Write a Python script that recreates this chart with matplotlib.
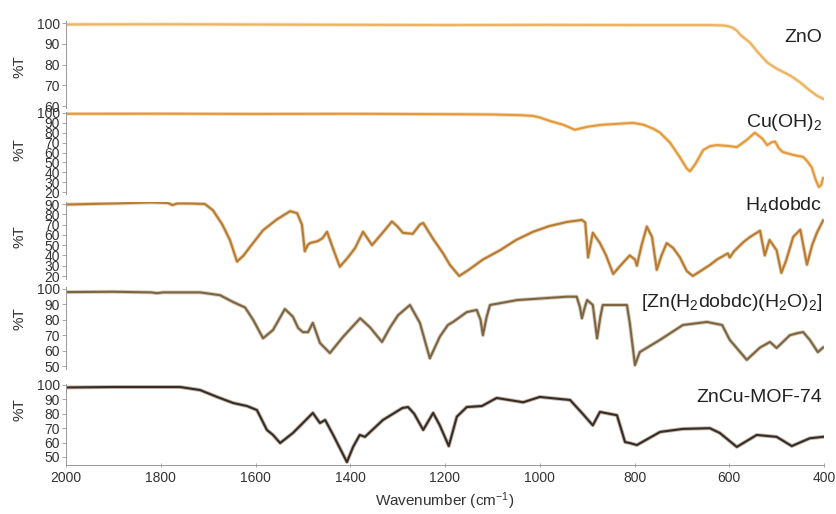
import matplotlib
matplotlib.use('Agg')
import matplotlib.pyplot as plt


FILE = 'out.png'

WIDTH_PX = 836
HEIGHT_PX = 514
LEFT_PX = 66
RIGHT_PX = 824

NAMES = ['ZnO', 'Cu(OH)$_\\mathregular{2}$', 'H$_\\mathregular{4}$dobdc',
         '[Zn(H$_\\mathregular{2}$dobdc)(H$_\\mathregular{2}$O)$_\\mathregular{2}$]', 'ZnCu-MOF-74']
COLORS = ['#EBB45E', '#E39A3A', '#B97B30', '#7E6540', '#3B2C1F']

ZNO_WN = [2000, 1800, 1500, 1200, 1000, 800, 640, 610, 595, 585, 575, 556, 540, 520,
          500, 487, 470, 451, 430, 415, 402]
ZNO_T = [99.3, 99.4, 99.2, 99.0, 99.1, 99.0, 99.0, 98.8, 98.0, 96.5, 94.0, 90.5, 86.0, 81.0,
         78.0, 76.5, 74.5, 71.5, 67.5, 65.0, 63.5]

CUOH_WN = [2000, 1800, 1600, 1400, 1200, 1100, 1040, 1014, 1000, 979, 950, 926, 900, 870,
           837, 803, 780, 760, 746, 725, 704, 690, 683, 672, 655, 640, 626, 600, 584, 565,
           546, 530, 520, 510, 503, 495, 487, 465, 444, 435, 426, 418, 411, 406, 402]
CUOH_T = [99.2, 99.3, 99.0, 99.2, 98.8, 98.5, 97.8, 97.0, 95.5, 92.0, 88.0, 83.0, 86.0, 88.0,
          89.0, 90.0, 88.0, 84.0, 80.0, 70.0, 55.0, 44.0, 41.0, 48.0, 62.5, 66.5, 67.5, 66.5,
          65.5, 72.0, 80.0, 74.0, 67.5, 70.5, 71.0, 64.0, 60.5, 57.5, 55.5, 51.0, 45.0, 33.0,
          25.0, 27.0, 34.0]

H4_WN = [2000, 1900, 1820, 1785, 1775, 1765, 1740, 1707, 1690, 1670, 1654, 1639, 1625, 1612,
         1584, 1555, 1527, 1512, 1502, 1496, 1490, 1485, 1468, 1458, 1449, 1435, 1422, 1405,
         1390, 1373, 1354, 1330, 1312, 1300, 1289, 1268, 1253, 1246, 1225, 1204, 1190, 1170,
         1150, 1120, 1084, 1050, 1014, 980, 943, 911, 904, 898, 888, 873, 860, 845, 830, 810,
         799, 795, 785, 774, 763, 753, 743, 732, 718, 704, 690, 677, 660, 640, 626, 603, 599,
         590, 570, 556, 535, 525, 515, 500, 490, 480, 465, 450, 436, 425, 415, 402]
H4_T = [89.5, 90.5, 91.5, 91.0, 89.0, 90.5, 90.5, 90.0, 84.0, 70.0, 55.0, 34.0, 40.0, 48.0,
        64.5, 75.0, 83.0, 81.0, 70.0, 44.0, 50.0, 52.0, 54.0, 57.0, 63.0, 45.0, 29.0, 38.0,
        47.0, 63.0, 50.0, 63.0, 73.0, 68.0, 62.0, 61.0, 70.0, 71.5, 56.0, 42.0, 31.0, 20.0,
        26.0, 36.0, 45.0, 55.0, 63.0, 68.5, 72.5, 74.5, 72.0, 38.0, 62.0, 52.0, 40.0, 22.0,
        30.0, 40.0, 36.0, 30.0, 50.0, 68.0, 58.0, 26.0, 40.0, 52.0, 47.0, 38.0, 25.0, 20.0,
        25.0, 31.0, 36.0, 42.0, 38.0, 44.0, 53.0, 58.0, 64.0, 40.0, 55.0, 45.0, 23.0, 35.0,
        58.0, 65.0, 31.0, 50.0, 62.0, 74.0]

ZN_WN = [2000, 1900, 1820, 1808, 1795, 1717, 1675, 1647, 1622, 1605, 1584, 1563, 1538, 1521,
         1510, 1500, 1489, 1479, 1464, 1443, 1415, 1379, 1358, 1333, 1316, 1299, 1274, 1253,
         1232, 1211, 1194, 1183, 1154, 1133, 1125, 1120, 1112, 1105, 1048, 943, 922, 915, 911,
         905, 900, 888, 879, 872, 867, 816, 810, 799, 789, 746, 698, 647, 615, 599, 563, 535,
         514, 500, 472, 455, 444, 430, 413, 402]
ZN_T = [98.0, 98.2, 97.8, 97.3, 97.8, 97.8, 96.0, 91.5, 88.0, 80.0, 68.0, 73.4, 87.0, 82.0,
        74.7, 72.0, 72.0, 78.0, 65.0, 58.4, 69.0, 81.0, 75.0, 65.6, 75.0, 83.0, 89.6, 78.0,
        55.0, 69.0, 76.6, 78.6, 85.0, 86.4, 80.0, 70.0, 82.0, 89.6, 92.8, 95.0, 95.0, 88.0,
        81.0, 88.0, 92.8, 89.6, 68.0, 82.0, 89.6, 89.6, 78.0, 50.6, 59.0, 67.0, 76.6, 78.6,
        76.6, 67.0, 54.0, 62.0, 65.6, 61.7, 70.0, 71.4, 72.0, 67.0, 59.0, 62.0]

ZNCU_WN = [2000, 1900, 1800, 1759, 1717, 1681, 1647, 1618, 1597, 1576, 1563, 1548, 1521, 1500,
           1479, 1464, 1453, 1436, 1407, 1394, 1380, 1369, 1331, 1290, 1278, 1265, 1246, 1225,
           1211, 1192, 1175, 1154, 1122, 1091, 1035, 1000, 936, 911, 888, 873, 837, 820, 810,
           795, 746, 698, 641, 620, 584, 542, 500, 468, 430, 402]
ZNCU_T = [98.3, 98.6, 98.6, 98.6, 96.5, 91.7, 87.5, 85.4, 82.6, 68.8, 65.3, 59.7, 66.7, 73.6,
          80.6, 73.6, 75.7, 65.3, 46.5, 57.0, 65.3, 64.0, 75.7, 84.0, 84.7, 80.0, 68.8, 80.6,
          72.0, 57.6, 78.0, 84.7, 85.4, 91.0, 88.0, 91.7, 89.6, 80.6, 72.0, 81.3, 79.0, 60.4,
          59.7, 58.3, 67.4, 69.5, 70.0, 66.7, 57.0, 65.3, 64.0, 57.6, 63.0, 64.0]

SERIES = [(ZNO_WN, ZNO_T), (CUOH_WN, CUOH_T), (H4_WN, H4_T), (ZN_WN, ZN_T), (ZNCU_WN, ZNCU_T)]

# per panel: y limits, two ticks with their pixel row, tick values
YLIMS = [(59, 101), (18, 101), (17, 92), (48, 101), (44.5, 101)]
TICK_ROWS = [((100, 23), (60, 106)), ((100, 113), (20, 192)), ((90, 204), (20, 276)),
             ((100, 289), (50, 366)), ((100, 385), (50, 457))]
YTICKS = [range(60, 101, 10), range(20, 101, 10), range(20, 91, 10),
          range(50, 101, 10), range(50, 101, 10)]
LABEL_Y = [93, 90, 89, 91.5, 91]
PCT_ROWS = [67, 150, 237, 319, 410]

XTICKS = [2000, 1800, 1600, 1400, 1200, 1000, 800, 600, 400]


def panel_rect(ylim, ticks):
    (va, pa), (vb, pb) = ticks
    scale = (pb - pa) / (va - vb)
    top = pa - (ylim[1] - va) * scale
    bottom = pb + (vb - ylim[0]) * scale
    return [LEFT_PX / WIDTH_PX, 1 - bottom / HEIGHT_PX,
            (RIGHT_PX - LEFT_PX) / WIDTH_PX, (bottom - top) / HEIGHT_PX]


def main():
    plt.rcParams['font.family'] = ['Liberation Sans', 'DejaVu Sans']
    plt.rcParams['mathtext.fontset'] = 'custom'
    plt.rcParams['mathtext.rm'] = 'Liberation Sans'
    plt.rcParams['mathtext.it'] = 'Liberation Sans:italic'

    fig = plt.figure(figsize=(WIDTH_PX / 100, HEIGHT_PX / 100), dpi=100)

    n = len(SERIES)
    for i, ((wn, t), name, color) in enumerate(zip(SERIES, NAMES, COLORS)):
        ax = fig.add_axes(panel_rect(YLIMS[i], TICK_ROWS[i]))
        ax.patch.set_visible(False)
        # soft halo under the line, like the scanned original
        ax.plot(wn, t, color=color, lw=2.8, alpha=0.35, solid_joinstyle='round')
        ax.plot(wn, t, color=color, lw=1.5, solid_joinstyle='round')
        ax.set_xlim(2000, 400)
        ax.set_ylim(*YLIMS[i])
        ax.set_yticks(list(YTICKS[i]))
        ax.tick_params(axis='y', labelsize=10, length=3, width=0.6, color='#999999',
                       pad=1.5, labelcolor='#333333')
        for side in ['top', 'right']:
            ax.spines[side].set_visible(False)
        ax.spines['left'].set_color('#999999')
        ax.spines['left'].set_linewidth(0.7)
        ax.text(0.998, LABEL_Y[i], name, transform=ax.get_yaxis_transform(),
                ha='right', va='center', fontsize=14, color='#222222')
        fig.text(20 / WIDTH_PX, 1 - PCT_ROWS[i] / HEIGHT_PX, '%T', rotation=90,
                 ha='center', va='center', fontsize=11, color='#333333')

        if i < n - 1:
            ax.spines['bottom'].set_visible(False)
            ax.set_xticks([])
        else:
            ax.spines['bottom'].set_color('#999999')
            ax.spines['bottom'].set_linewidth(0.7)
            ax.set_xticks(XTICKS)
            ax.tick_params(axis='x', labelsize=10, length=3, width=0.6, color='#999999',
                           direction='inout', pad=3, labelcolor='#333333')
            ax.set_xlabel('Wavenumber (cm$^{\\mathregular{-1}}$)', fontsize=11,
                          color='#333333', labelpad=4)

    fig.savefig(FILE, dpi=100)


if __name__ == '__main__':
    main()
